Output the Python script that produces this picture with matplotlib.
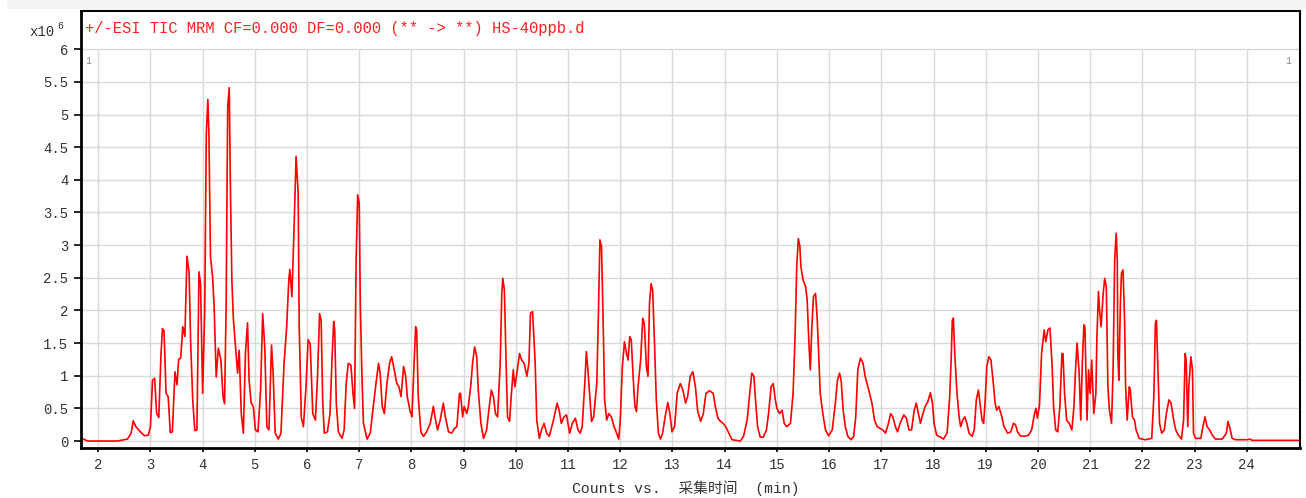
import numpy as np
import matplotlib.pyplot as plt
from matplotlib.patches import Rectangle

rt = [1.68, 1.80, 2.37, 2.56, 2.63, 2.67, 2.72, 2.82, 2.89, 2.96, 3.00, 3.04, 3.08, 3.12, 3.16,
      3.20, 3.23, 3.26, 3.30, 3.34, 3.38, 3.42, 3.47, 3.51, 3.54, 3.58, 3.62, 3.66, 3.70, 3.74,
      3.77, 3.81, 3.85, 3.89, 3.93, 3.96, 4.00, 4.04, 4.07, 4.10, 4.12, 4.15, 4.19, 4.22, 4.26,
      4.30, 4.35, 4.39, 4.42, 4.45, 4.48, 4.51, 4.53, 4.56, 4.59, 4.63, 4.67, 4.70, 4.74, 4.78,
      4.82, 4.86, 4.89, 4.93, 4.97, 5.01, 5.06, 5.11, 5.15, 5.19, 5.23, 5.27, 5.32, 5.35, 5.39,
      5.45, 5.50, 5.56, 5.61, 5.65, 5.67, 5.71, 5.75, 5.79, 5.83, 5.85, 5.89, 5.93, 5.98, 6.02,
      6.06, 6.11, 6.16, 6.20, 6.24, 6.27,
      6.30, 6.33, 6.39, 6.44, 6.48, 6.51, 6.53, 6.56, 6.60, 6.67, 6.71, 6.75, 6.79, 6.84, 6.88,
      6.91, 6.94, 6.97, 7.00, 7.02, 7.05, 7.08, 7.15, 7.21, 7.27, 7.32, 7.37, 7.40, 7.44, 7.48,
      7.53, 7.58, 7.62, 7.67, 7.72, 7.76, 7.80, 7.85, 7.89, 7.92, 7.97, 8.01, 8.05, 8.08, 8.10,
      8.13, 8.18, 8.23, 8.29, 8.36, 8.42, 8.45, 8.50, 8.55, 8.61, 8.65, 8.71, 8.77, 8.82, 8.87,
      8.92, 8.94, 8.98, 9.01, 9.06, 9.09, 9.14, 9.17, 9.21, 9.25, 9.28, 9.33, 9.38, 9.44, 9.49,
      9.53, 9.57, 9.61, 9.65, 9.70, 9.73, 9.75, 9.78, 9.81, 9.84, 9.88, 9.91, 9.95, 9.98, 10.02,
      10.07, 10.11, 10.16, 10.21, 10.25, 10.28, 10.32, 10.37, 10.40, 10.45, 10.49, 10.54, 10.59,
      10.64, 10.72, 10.79, 10.83, 10.87, 10.92, 10.97,
      11.03, 11.08, 11.14, 11.19, 11.23, 11.27, 11.32, 11.35, 11.38, 11.42, 11.45, 11.49, 11.55,
      11.58, 11.61, 11.64, 11.67, 11.70, 11.74, 11.78, 11.83, 11.88, 11.93, 11.97, 12.00, 12.04,
      12.08, 12.12, 12.15, 12.18, 12.21, 12.25, 12.28, 12.31, 12.34, 12.39, 12.43, 12.46, 12.50,
      12.53, 12.56, 12.59, 12.62, 12.66, 12.69, 12.73, 12.77, 12.81, 12.87, 12.91, 12.95, 12.99,
      13.04, 13.09, 13.15, 13.20, 13.25, 13.29, 13.34, 13.39, 13.44, 13.48, 13.54, 13.59, 13.64,
      13.71, 13.78, 13.82, 13.87, 13.92, 13.97, 14.02, 14.08, 14.14, 14.30, 14.36, 14.43, 14.48,
      14.52, 14.56, 14.59, 14.63, 14.68, 14.74, 14.80, 14.84, 14.89, 14.93, 14.97, 15.00, 15.05,
      15.10, 15.14, 15.19, 15.26, 15.31, 15.35, 15.38, 15.41, 15.44, 15.46, 15.50, 15.55, 15.58,
      15.61, 15.64, 15.67, 15.70, 15.74, 15.77, 15.80, 15.83, 15.88, 15.93, 15.99, 16.06,
      16.12, 16.16, 16.20, 16.23, 16.27, 16.31, 16.36, 16.42, 16.47, 16.51, 16.55, 16.60, 16.65,
      16.69, 16.76, 16.82, 16.87, 16.92, 16.98, 17.03, 17.08, 17.13, 17.18, 17.22, 17.27, 17.31,
      17.36, 17.43, 17.48, 17.53, 17.58, 17.63, 17.67, 17.71, 17.75, 17.78, 17.84, 17.89, 17.94,
      17.98, 18.01, 18.06, 18.13, 18.19, 18.26, 18.31, 18.34, 18.36, 18.38, 18.41, 18.45, 18.49,
      18.52, 18.56, 18.60, 18.64, 18.68, 18.74, 18.78, 18.82, 18.86, 18.89, 18.93, 18.96, 18.99,
      19.02, 19.06, 19.10, 19.14, 19.18, 19.21, 19.25, 19.31, 19.35, 19.42, 19.48, 19.53, 19.57,
      19.61, 19.66, 19.74, 19.82, 19.88,
      19.93, 19.96, 19.99, 20.03, 20.07, 20.12, 20.15, 20.19, 20.23, 20.27, 20.30, 20.34, 20.38,
      20.42, 20.46, 20.48, 20.51, 20.55, 20.60, 20.65, 20.69, 20.72, 20.75, 20.79, 20.82, 20.85,
      20.88, 20.90, 20.94, 20.97, 21.00, 21.03, 21.07, 21.11, 21.13, 21.16, 21.18, 21.21, 21.25,
      21.28, 21.31, 21.34, 21.37, 21.41, 21.44, 21.47, 21.50, 21.52, 21.53, 21.55, 21.58, 21.60,
      21.63, 21.66, 21.68, 21.71, 21.75, 21.77, 21.81, 21.85, 21.88, 21.94, 22.06, 22.18, 22.22,
      22.25, 22.27, 22.30, 22.33, 22.37, 22.42, 22.46, 22.51, 22.55, 22.60, 22.64, 22.69, 22.75,
      22.79, 22.82, 22.84, 22.87, 22.89, 22.93, 22.96, 22.98, 23.02, 23.12, 23.16, 23.20, 23.24,
      23.29, 23.34, 23.40, 23.53, 23.61, 23.64, 23.68, 23.72, 23.79, 24.02, 24.06, 24.10, 25.00]

tic = [0.04, 0.00, 0.00, 0.03, 0.12, 0.31, 0.22, 0.13, 0.08, 0.09, 0.22, 0.93, 0.96, 0.42, 0.36,
       1.29, 1.72, 1.69, 0.73, 0.68, 0.13, 0.14, 1.06, 0.86, 1.25, 1.27, 1.75, 1.60, 2.83, 2.59,
       1.52, 0.63, 0.16, 0.17, 2.59, 2.41, 0.73, 2.01, 4.71, 5.23, 4.71, 2.82, 2.52, 2.06, 0.98,
       1.42, 1.24, 0.68, 0.57, 2.06, 5.12, 5.41, 3.99, 2.46, 1.85, 1.44, 1.04, 1.39, 0.42, 0.12,
       1.34, 1.81, 0.93, 0.58, 0.53, 0.17, 0.14, 0.78, 1.95, 1.44, 0.22, 0.17, 1.47, 1.04, 0.12,
       0.03, 0.12, 1.19, 1.75, 2.46, 2.63, 2.21, 3.23, 4.36, 3.79, 1.75, 0.36, 0.22, 0.83, 1.55,
       1.49, 0.42, 0.32, 0.98, 1.95, 1.85,
       0.60, 0.12, 0.14, 0.42, 1.29, 1.83, 1.70, 0.58, 0.14, 0.04, 0.17, 0.88, 1.19, 1.16, 0.73,
       0.50, 2.77, 3.77, 3.64, 2.11, 1.04, 0.27, 0.03, 0.12, 0.53, 0.88, 1.19, 1.04, 0.53, 0.42,
       0.88, 1.19, 1.29, 1.09, 0.88, 0.83, 0.68, 1.14, 0.99, 0.68, 0.47, 0.37, 1.19, 1.75, 1.70,
       0.68, 0.14, 0.07, 0.14, 0.27, 0.53, 0.37, 0.17, 0.32, 0.58, 0.37, 0.14, 0.12, 0.19, 0.22,
       0.73, 0.73, 0.37, 0.53, 0.42, 0.53, 0.88, 1.19, 1.44, 1.29, 0.78, 0.27, 0.04, 0.17, 0.53,
       0.78, 0.68, 0.42, 0.37, 1.19, 2.26, 2.49, 2.31, 1.29, 0.37, 0.30, 0.68, 1.09, 0.83, 1.04,
       1.34, 1.24, 1.19, 0.99, 1.19, 1.96, 1.98, 1.19, 0.32, 0.04, 0.17, 0.27, 0.12,
       0.07, 0.32, 0.58, 0.47, 0.27, 0.37, 0.40,
       0.12, 0.27, 0.35, 0.17, 0.12, 0.22, 0.88, 1.37, 1.09, 0.63, 0.30, 0.37, 0.88,
       1.90, 3.08, 2.98, 1.90, 0.63, 0.32, 0.42, 0.37, 0.22, 0.12, 0.03, 0.32, 1.14,
       1.52, 1.34, 1.24, 1.60, 1.55, 0.93, 0.53, 0.45, 0.83, 1.24, 1.88, 1.80, 1.14,
       0.99, 2.11, 2.41, 2.31, 1.39, 0.63, 0.12, 0.03, 0.12, 0.42, 0.59, 0.42, 0.14,
       0.22, 0.73, 0.88, 0.78, 0.58, 0.68, 0.99, 1.06, 0.83, 0.47, 0.30, 0.42, 0.73,
       0.77, 0.73, 0.53, 0.35, 0.30, 0.27, 0.22, 0.12, 0.02, 0.00, 0.07, 0.32, 0.73,
       1.04, 0.99, 0.63, 0.22, 0.06, 0.06, 0.17, 0.42, 0.83, 0.88, 0.63, 0.50, 0.42,
       0.47, 0.27, 0.22, 0.27, 0.73, 1.65, 2.67, 3.10, 2.98, 2.67, 2.47, 2.36, 2.16,
       1.55, 1.09, 1.75, 2.21, 2.26, 1.90, 1.34, 0.73, 0.42, 0.17, 0.08, 0.17,
       0.58, 0.93, 1.04, 0.93, 0.47, 0.22, 0.07, 0.02, 0.07, 0.37, 1.09, 1.27, 1.19,
       0.99, 0.78, 0.58, 0.32, 0.22, 0.19, 0.17, 0.12, 0.25, 0.42, 0.37, 0.22, 0.14,
       0.27, 0.40, 0.35, 0.17, 0.17, 0.47, 0.58, 0.42, 0.27, 0.37, 0.53, 0.60, 0.74,
       0.58, 0.27, 0.09, 0.06, 0.03, 0.12, 0.68, 1.29, 1.85, 1.88, 1.29, 0.73, 0.37,
       0.22, 0.32, 0.37, 0.27, 0.12, 0.07, 0.17, 0.63, 0.78, 0.58, 0.32, 0.27, 0.63,
       1.14, 1.29, 1.24, 0.93, 0.58, 0.47, 0.53, 0.37, 0.22, 0.12, 0.14, 0.27, 0.25,
       0.14, 0.08, 0.07, 0.09, 0.17,
       0.40, 0.50, 0.35, 0.55, 1.34, 1.70, 1.52, 1.70, 1.73, 1.19, 0.53, 0.17, 0.14,
       0.53, 1.34, 1.34, 0.73, 0.32, 0.27, 0.17, 0.53, 1.09, 1.50, 1.04, 0.32, 1.19,
       1.78, 1.75, 0.32, 1.09, 0.73, 1.24, 0.42, 0.73, 1.60, 2.29, 2.01, 1.75, 2.26,
       2.49, 2.36, 0.83, 0.47, 0.27, 1.09, 2.77, 3.18, 2.77, 1.34, 0.93, 2.11, 2.57,
       2.62, 1.85, 0.83, 0.32, 0.83, 0.78, 0.37, 0.32, 0.17, 0.04, 0.02, 0.04, 0.68,
       1.80, 1.85, 1.04, 0.27, 0.12, 0.17, 0.42, 0.63, 0.58, 0.32, 0.17, 0.09, 0.03,
       0.32, 1.34, 1.24, 0.22, 0.83, 1.29, 1.09, 0.12, 0.04, 0.04, 0.22, 0.37, 0.22,
       0.17, 0.09, 0.03, 0.03, 0.12, 0.30, 0.19, 0.04, 0.02, 0.02, 0.03, 0.01, 0.01]

x_ticks = list(range(2, 25))
y_ticks = [0, 0.5, 1, 1.5, 2, 2.5, 3, 3.5, 4, 4.5, 5, 5.5, 6]
y_labels = ['0', '0.5', '1', '1.5', '2', '2.5', '3', '3.5', '4', '4.5', '5', '5.5', '6']
title = '+/-ESI TIC MRM CF=0.000 DF=0.000 (** -> **) HS-40ppb.d'

W, H = 1306, 498
fig = plt.figure(figsize=(W / 100, H / 100), dpi=100)
# faint grey strip above the plot frame
fig.patches.append(Rectangle((7 / W, 1 - 9 / H), 1 - 7 / W, 9 / H, transform=fig.transFigure,
                             facecolor='#f4f4f4', edgecolor='none', zorder=0))
ax = fig.add_axes([81 / W, 1 - 448 / H, 1219 / W, 437 / H])

xlo, xhi = 1.67, 25.02
ylo, yhi = -0.107, 6.585
ax.set_xlim(xlo, xhi)
ax.set_ylim(ylo, yhi)

# grid only up to the 6 line, the strip above holds the title
ax.vlines(x_ticks, ylo, 6, color='#d9d9d9', lw=1, zorder=0)
ax.hlines(y_ticks, xlo, xhi, color='#d9d9d9', lw=1, zorder=0)

ax.plot(rt, tic, color='#ff0000', lw=1.2, zorder=2)

mono = 'Liberation Mono'
ax.set_xticks(x_ticks)
ax.set_xticklabels([str(v) for v in x_ticks], family=mono, fontsize=10, color='#333333')
ax.set_yticks(y_ticks)
ax.set_yticklabels(y_labels, family=mono, fontsize=10, color='#333333')
ax.tick_params(axis='y', direction='out', length=5, width=1.2, color='black', pad=4)
ax.tick_params(axis='x', direction='out', length=3, width=1.2, color='black', pad=4)

for side in ['left', 'bottom']:
    ax.spines[side].set_linewidth(2)
for side in ['top', 'right']:
    ax.spines[side].set_linewidth(1.5)

fig.text(85 / W, 1 - 28 / H, title, family=mono, fontsize=11.2, color='#ff2020',
         va='center', ha='left')
fig.text(29 / W, 1 - 32 / H, 'x10', family=mono, fontsize=10, color='#333333',
         va='center', ha='left')
fig.text(57 / W, 1 - 26 / H, '6', family=mono, fontsize=7, color='#333333',
         va='center', ha='left')
fig.text(88 / W, 1 - 61 / H, '1', family=mono, fontsize=7, color='#888888',
         va='center', ha='center')
fig.text(1288 / W, 1 - 61 / H, '1', family=mono, fontsize=7, color='#888888',
         va='center', ha='center')
fig.text(686 / W, 1 - 488 / H, 'Counts vs.  采集时间  (min)',
         family=[mono, 'Noto Sans CJK SC'], fontsize=10.6, color='#333333',
         va='center', ha='center')

fig.savefig('out.png', dpi=100)
